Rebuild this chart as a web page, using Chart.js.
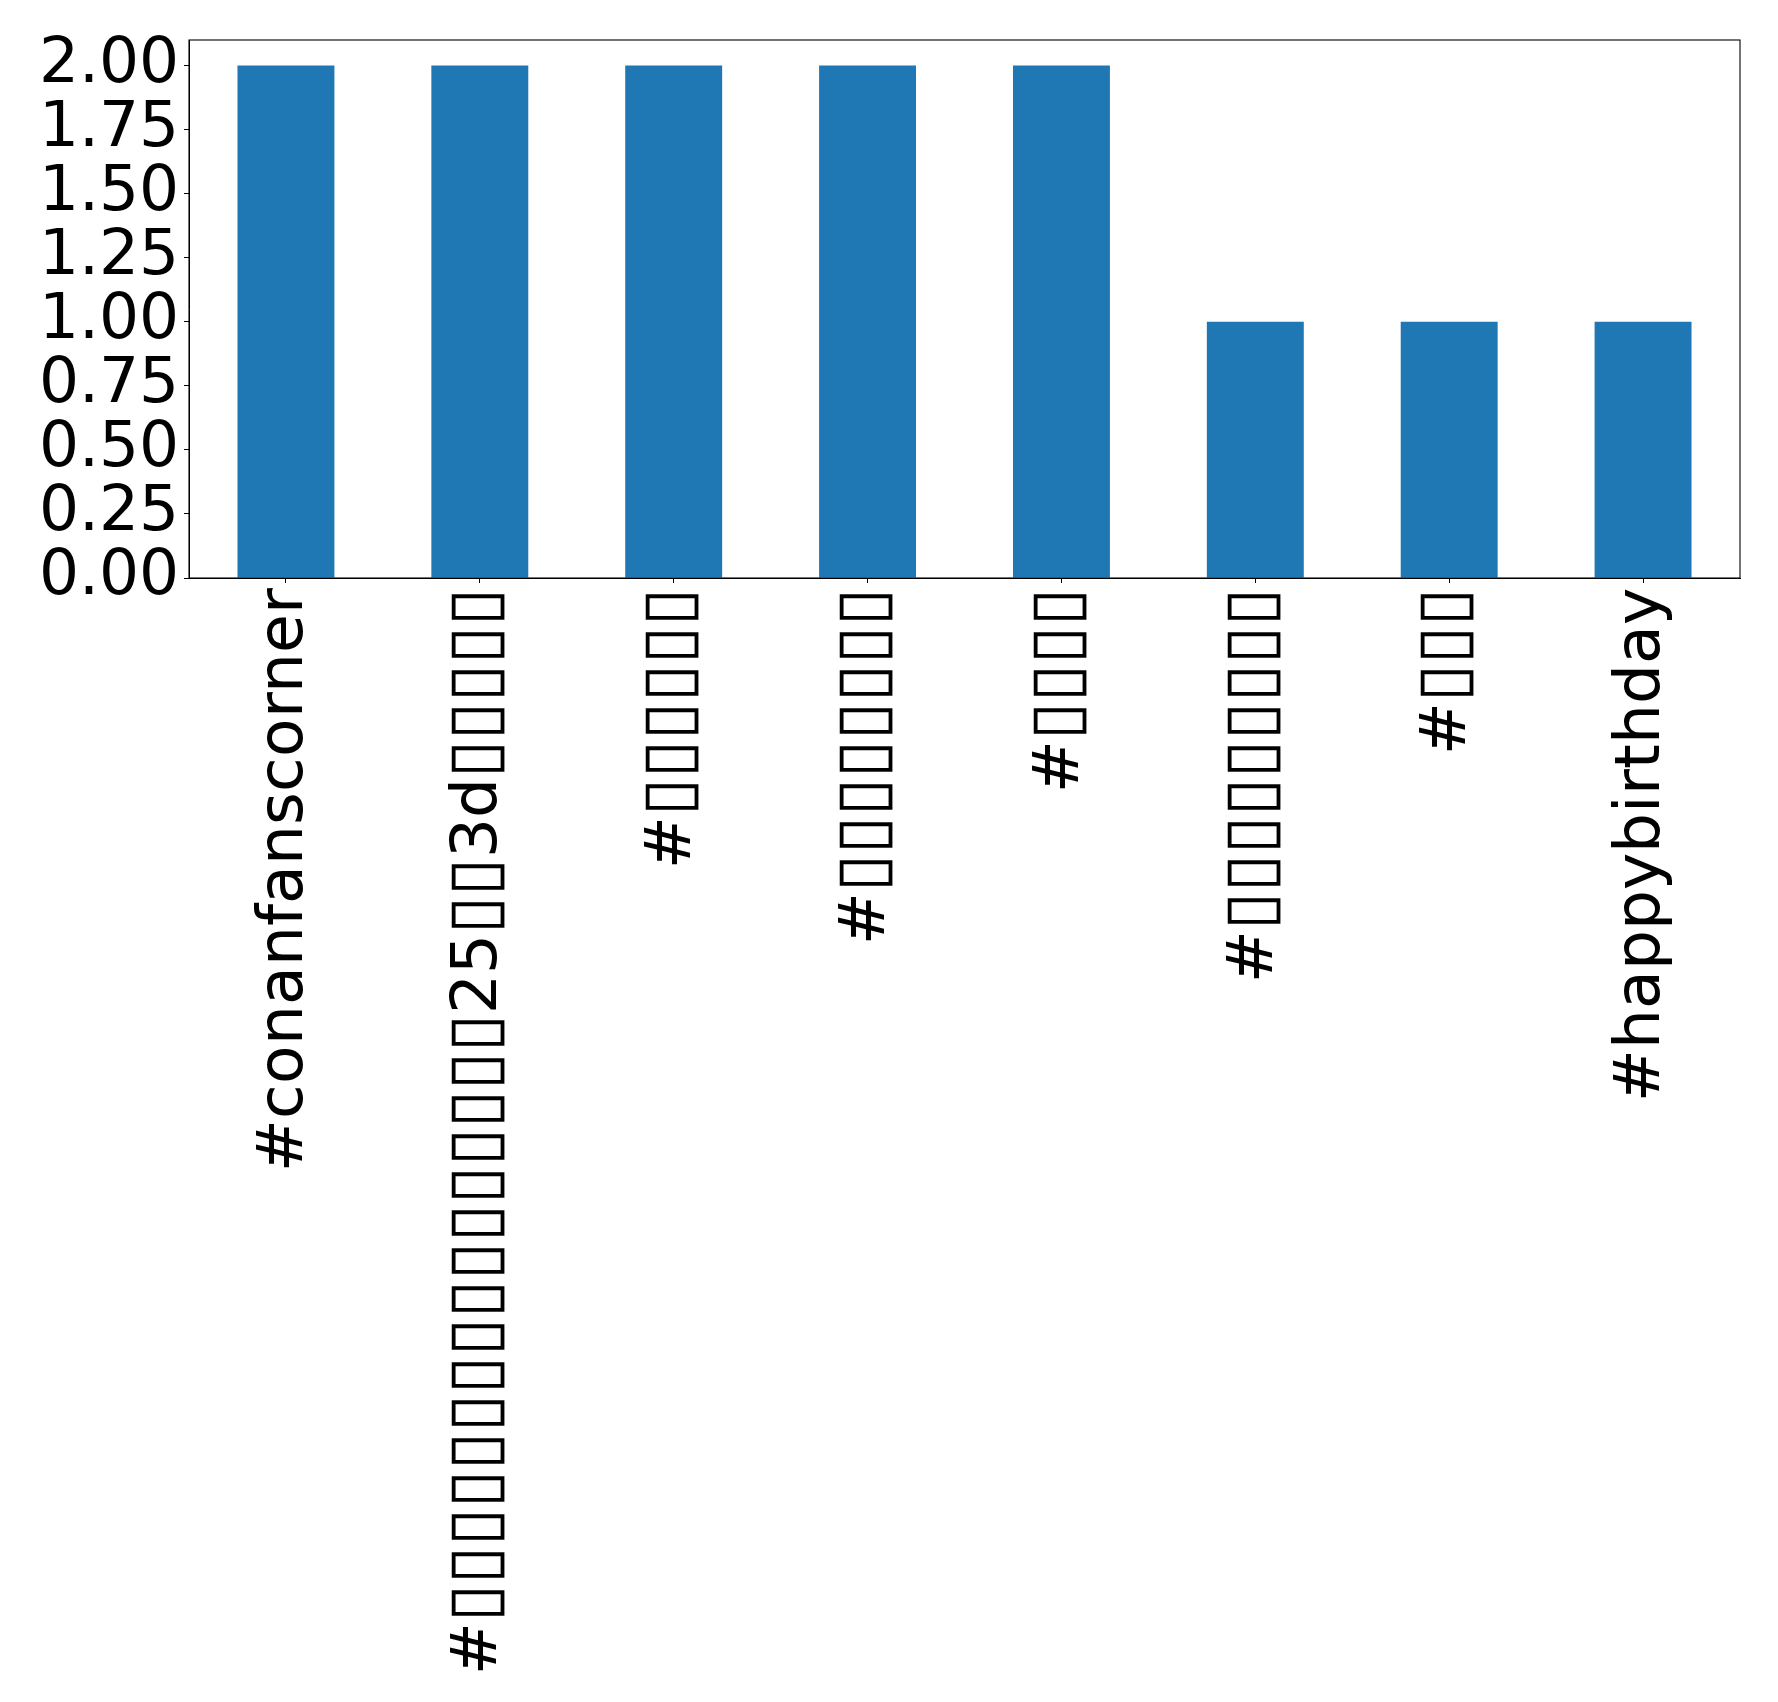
<!DOCTYPE html>
<html>
<head>
<meta charset="utf-8">
<script src="https://cdn.jsdelivr.net/npm/chart.js@4.4.1/dist/chart.umd.min.js"></script>
<style>
  body { margin: 0; background: #fff; }
  canvas { display: block; }
  /* tofu boxes: DejaVu box glyph scaled up to a ~0.59em advance, the rest stays DejaVu Sans */
  @font-face { font-family: 'TofuSans'; src: local('DejaVu Sans'), local('DejaVuSans'); unicode-range: U+25AF; size-adjust: 110.5%; }
  @font-face { font-family: 'TofuSans'; src: local('DejaVu Sans'), local('DejaVuSans'); unicode-range: U+0000-25AE, U+25B0-FFFF; }
</style>
</head>
<body>
<canvas id="hashtagChart" width="1778" height="1702"></canvas>
<script>
// Missing glyphs in the original render as empty boxes
const BOX = '\u25AF';

const hashtags = [
    '#conanfanscorner',
    '#' + BOX.repeat(16) + '25' + BOX.repeat(2) + '3d' + BOX.repeat(5),
    '#' + BOX.repeat(6),
    '#' + BOX.repeat(8),
    '#' + BOX.repeat(4),
    '#' + BOX.repeat(9),
    '#' + BOX.repeat(3),
    '#happybirthday'
];
const counts = [2, 2, 2, 2, 2, 1, 1, 1];
const yTicks = [0, 0.25, 0.5, 0.75, 1, 1.25, 1.5, 1.75, 2];

const FONT = { family: "TofuSans, 'DejaVu Sans'", size: 62.5, lineHeight: 1 };

// Draw the full axes frame like matplotlib
const framePlugin = {
    id: 'frame',
    afterDraw(chart) {
        const { ctx, chartArea } = chart;
        ctx.save();
        ctx.strokeStyle = '#000';
        ctx.lineWidth = 1.1;
        ctx.strokeRect(chartArea.left, chartArea.top,
            chartArea.right - chartArea.left, chartArea.bottom - chartArea.top);
        ctx.restore();
    }
};

function drawChart() {
    const ctx = document.getElementById('hashtagChart').getContext('2d');
    new Chart(ctx, {
        type: 'bar',
        data: {
            labels: hashtags,
            datasets: [{
                data: counts,
                backgroundColor: '#1f77b4',
                categoryPercentage: 1,
                barPercentage: 0.5
            }]
        },
        options: {
            responsive: false,
            animation: false,
            devicePixelRatio: 1,
            layout: { padding: { top: 40, right: 38, left: 0, bottom: 0 } },
            plugins: {
                legend: { display: false },
                tooltip: { enabled: false }
            },
            scales: {
                x: {
                    offset: true,
                    grid: { offset: false, drawOnChartArea: false, color: '#000', tickLength: 5 },
                    border: { color: '#000' },
                    ticks: {
                        autoSkip: false,
                        minRotation: 90,
                        maxRotation: 90,
                        padding: 5,
                        color: '#000',
                        font: FONT
                    },
                    afterFit(scale) { scale.height = 1124; }
                },
                y: {
                    min: 0,
                    max: 2.1,
                    grid: { drawOnChartArea: false, color: '#000', tickLength: 5 },
                    border: { color: '#000' },
                    afterBuildTicks(scale) { scale.ticks = yTicks.map(v => ({ value: v })); },
                    ticks: {
                        autoSkip: false,
                        padding: 5,
                        color: '#000',
                        font: FONT,
                        callback: v => Number(v).toFixed(2)
                    },
                    afterFit(scale) { scale.width = 189; }
                }
            }
        },
        plugins: [framePlugin]
    });
}

document.fonts.load('62.5px TofuSans', '#a' + BOX)
    .catch(() => null)
    .then(drawChart);
</script>
</body>
</html>
